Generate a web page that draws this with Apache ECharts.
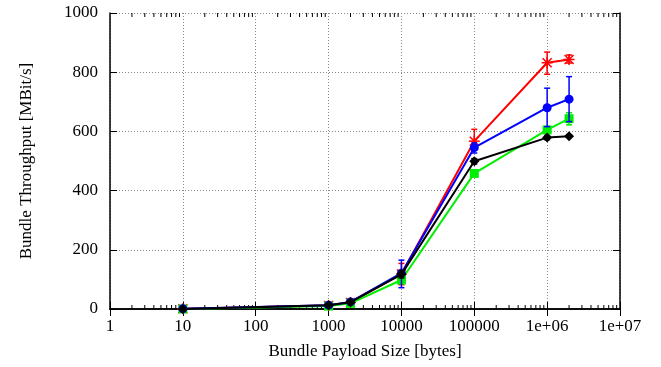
<!DOCTYPE html>
<html>
<head>
<meta charset="utf-8">
<script src="https://cdn.jsdelivr.net/npm/echarts@6/dist/echarts.min.js"></script>
<style>
  html, body { margin: 0; padding: 0; background: #fff; }
  #chart { width: 661px; height: 367px; }
</style>
</head>
<body>
<div id="chart"></div>
<script>
// payload sizes (bytes)
var payloadSizes = [10, 1000, 2000, 10000, 100000, 1000000, 2000000];

// throughput per run (MBit/s), with error bar low / high
var redValues   = [1, 12, 22, 118, 567, 832, 843];
var redLow      = [0, 10, 20, 82, 540, 793, 831];
var redHigh     = [2, 14, 24, 154, 607, 868, 858];

var greenValues = [0, 10, 19, 98, 458, 605, 643];
var greenLow    = [0, 8, 17, 86, 450, 598, 622];
var greenHigh   = [1, 12, 21, 110, 466, 612, 663];

var blueValues  = [1, 13, 24, 121, 545, 680, 709];
var blueLow     = [0, 11, 22, 72, 527, 616, 633];
var blueHigh    = [2, 15, 26, 165, 561, 746, 785];

var blackValues = [0, 13, 23, 117, 499, 579, 584];
var blackLow    = [0, 11, 21, 105, 490, 572, 580];
var blackHigh   = [1, 15, 25, 130, 508, 586, 588];

// x axis decades and minor tick positions (2..9 in each decade)
var decades = [1, 10, 100, 1000, 10000, 100000, 1000000];
var minorTickValues = [];
decades.forEach(function (d) {
  for (var k = 2; k <= 9; k++) minorTickValues.push(d * k);
});

var FONT = 'Liberation Serif';

function pairs(vals) {
  return payloadSizes.map(function (x, i) { return [x, vals[i]]; });
}
function errRows(vals, lo, hi) {
  return payloadSizes.map(function (x, i) { return [x, vals[i], lo[i], hi[i]]; });
}

// 画误差棒 + 点
function makeRender(shape, color) {
  return function (params, api) {
    var x = api.value(0);
    var p = api.coord([x, api.value(1)]);
    var lo = api.coord([x, api.value(2)]);
    var hi = api.coord([x, api.value(3)]);
    var st = { stroke: color, lineWidth: 1.5 };
    var cw = 3;
    var children = [
      { type: 'line', shape: { x1: lo[0], y1: lo[1], x2: hi[0], y2: hi[1] }, style: st },
      { type: 'line', shape: { x1: lo[0] - cw, y1: lo[1], x2: lo[0] + cw, y2: lo[1] }, style: st },
      { type: 'line', shape: { x1: hi[0] - cw, y1: hi[1], x2: hi[0] + cw, y2: hi[1] }, style: st }
    ];
    var s = 4.5;
    if (shape === 'star') {
      var ls = { stroke: color, lineWidth: 1.5 };
      children.push(
        { type: 'line', shape: { x1: p[0] - s, y1: p[1] - s, x2: p[0] + s, y2: p[1] + s }, style: ls },
        { type: 'line', shape: { x1: p[0] - s, y1: p[1] + s, x2: p[0] + s, y2: p[1] - s }, style: ls },
        { type: 'line', shape: { x1: p[0], y1: p[1] - s - 1, x2: p[0], y2: p[1] + s + 1 }, style: ls },
        { type: 'line', shape: { x1: p[0] - s - 1, y1: p[1], x2: p[0] + s + 1, y2: p[1] }, style: ls }
      );
    } else if (shape === 'circle') {
      children.push({ type: 'circle', shape: { cx: p[0], cy: p[1], r: 4.5 }, style: { fill: color } });
    } else if (shape === 'square') {
      children.push({ type: 'rect', shape: { x: p[0] - 4.5, y: p[1] - 4.5, width: 9, height: 9 }, style: { fill: color } });
    } else if (shape === 'diamond') {
      children.push({ type: 'polygon', shape: { points: [[p[0], p[1] - 5], [p[0] + 5, p[1]], [p[0], p[1] + 5], [p[0] - 5, p[1]]] }, style: { fill: color } });
    }
    return { type: 'group', children: children };
  };
}

var runs = [
  { vals: redValues, lo: redLow, hi: redHigh, color: '#ff0000', shape: 'star' },
  { vals: greenValues, lo: greenLow, hi: greenHigh, color: '#00ee00', shape: 'square' },
  { vals: blueValues, lo: blueLow, hi: blueHigh, color: '#0000ff', shape: 'circle' },
  { vals: blackValues, lo: blackLow, hi: blackHigh, color: '#000000', shape: 'diamond' }
];

var series = [];
runs.forEach(function (r, i) {
  series.push({
    type: 'line',
    data: pairs(r.vals),
    symbol: 'none',
    lineStyle: { color: r.color, width: 2 },
    z: 10 + i * 2,
    animation: false
  });
  series.push({
    type: 'custom',
    data: errRows(r.vals, r.lo, r.hi),
    renderItem: makeRender(r.shape, r.color),
    z: 11 + i * 2,
    animation: false
  });
});

// x 轴次刻度 (上下两边)
series.push({
  type: 'custom',
  data: minorTickValues.map(function (v) { return [v, 0]; }),
  renderItem: function (params, api) {
    var cs = params.coordSys;
    var px = api.coord([api.value(0), 0])[0];
    var st = { stroke: '#000', lineWidth: 1 };
    return {
      type: 'group',
      children: [
        { type: 'line', shape: { x1: px, y1: cs.y + cs.height, x2: px, y2: cs.y + cs.height - 4 }, style: st },
        { type: 'line', shape: { x1: px, y1: cs.y, x2: px, y2: cs.y + 4 }, style: st }
      ]
    };
  },
  z: 5,
  silent: true,
  animation: false
});

var chart = echarts.init(document.getElementById('chart'), null, { renderer: 'canvas' });
chart.setOption({
  backgroundColor: '#fff',
  animation: false,
  textStyle: { fontFamily: FONT },
  grid: { left: 110, right: 41, top: 13, bottom: 58 },
  xAxis: [{
    type: 'log',
    logBase: 10,
    min: 1,
    max: 10000000,
    splitNumber: 7,
    name: 'Bundle Payload Size [bytes]',
    nameLocation: 'middle',
    nameGap: 34,
    nameTextStyle: { fontFamily: FONT, fontSize: 17, color: '#000' },
    axisLine: { lineStyle: { color: '#000', width: 1.5 } },
    axisTick: { inside: true, length: 7, lineStyle: { color: '#000' } },
    axisLabel: {
      fontFamily: FONT, fontSize: 17, color: '#000', margin: 9,
      formatter: function (v) {
        var n = Math.round(v);
        if (n >= 1000000) return '1e+0' + Math.round(Math.log10(n));
        return String(n);
      }
    },
    splitLine: { show: true, lineStyle: { color: '#888', type: [1, 2], width: 1 } }
  }, {
    type: 'log',
    logBase: 10,
    min: 1,
    max: 10000000,
    splitNumber: 7,
    position: 'top',
    axisLine: { lineStyle: { color: '#000', width: 1.5 } },
    axisTick: { inside: true, length: 7, lineStyle: { color: '#000' } },
    axisLabel: { show: false },
    splitLine: { show: false }
  }],
  yAxis: [{
    type: 'value',
    min: 0,
    max: 1000,
    interval: 200,
    name: 'Bundle Throughput [MBit/s]',
    nameLocation: 'middle',
    nameGap: 75,
    nameTextStyle: { fontFamily: FONT, fontSize: 17, color: '#000' },
    axisLine: { show: true, lineStyle: { color: '#000', width: 1.5 } },
    axisTick: { show: true, inside: true, length: 7, lineStyle: { color: '#000' } },
    axisLabel: {
      fontFamily: FONT, fontSize: 17, color: '#000', margin: 12,
      formatter: function (v) { return String(v); }
    },
    splitLine: { show: true, lineStyle: { color: '#888', type: [1, 2], width: 1 } }
  }, {
    type: 'value',
    min: 0,
    max: 1000,
    interval: 200,
    position: 'right',
    axisLine: { show: true, lineStyle: { color: '#000', width: 1.5 } },
    axisTick: { show: true, inside: true, length: 7, lineStyle: { color: '#000' } },
    axisLabel: { show: false },
    splitLine: { show: false }
  }],
  series: series
});
</script>
</body>
</html>
